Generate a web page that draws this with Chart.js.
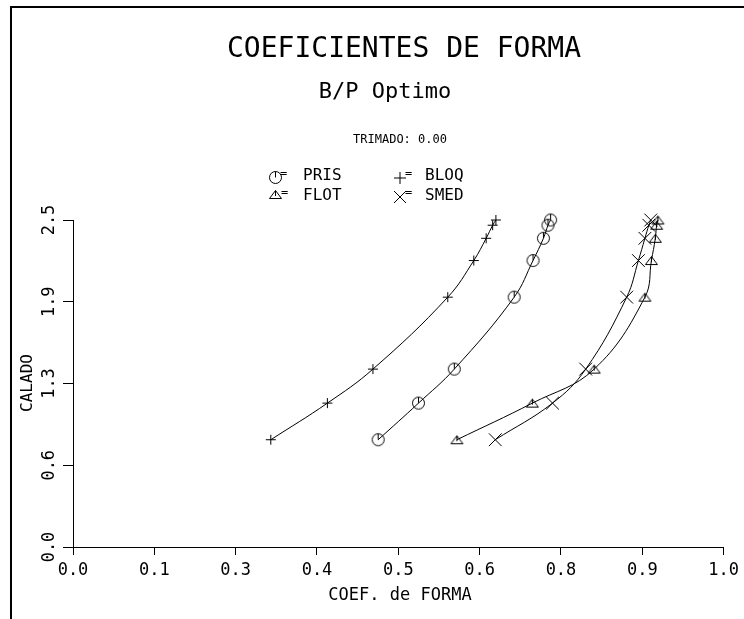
<!DOCTYPE html>
<html>
<head>
<meta charset="utf-8">
<script src="https://cdn.jsdelivr.net/npm/chart.js@4.4.1/dist/chart.umd.min.js"></script>
<style>
  body { margin: 0; background: #fff; }
  canvas { display: block; }
</style>
</head>
<body>
<canvas id="chart" width="744" height="619"></canvas>
<script>
// calado (draft) shared by all the curves
const calado = [0.82, 1.10, 1.36, 1.91, 2.19, 2.36, 2.46, 2.50];

// form coefficients
const pris = [0.469, 0.531, 0.586, 0.678, 0.707, 0.723, 0.730, 0.734];
const bloq = [0.304, 0.391, 0.461, 0.576, 0.616, 0.635, 0.645, 0.650];
const flot = [0.590, 0.706, 0.801, 0.879, 0.889, 0.895, 0.897, 0.899];
const smed = [0.649, 0.737, 0.788, 0.851, 0.869, 0.879, 0.885, 0.888];

// tick labels as printed on the original
const xTickLabels = ['0.0', '0.1', '0.3', '0.4', '0.5', '0.6', '0.8', '0.9', '1.0'];
const yTickLabels = ['0.0', '0.6', '1.3', '1.9', '2.5'];

const FONT = '"DejaVu Sans Mono", "Liberation Mono", monospace';

function toPoints(xs) {
    return xs.map((x, i) => ({ x: x, y: calado[i] }));
}

// small canvases used as point markers
function makeMarker(draw) {
    const c = document.createElement('canvas');
    c.width = 15;
    c.height = 15;
    const g = c.getContext('2d');
    g.strokeStyle = '#000';
    g.lineWidth = 1;
    draw(g);
    return c;
}

const circleMark = makeMarker(g => {
    g.beginPath();
    g.arc(7.5, 7.5, 6, 0, Math.PI * 2);
    g.moveTo(7.5, 1.5);
    g.lineTo(7.5, 7.5);
    g.stroke();
});

const triMark = makeMarker(g => {
    g.beginPath();
    g.moveTo(1.5, 11.5);
    g.lineTo(13.5, 11.5);
    g.lineTo(7.5, 3.5);
    g.closePath();
    g.moveTo(7.5, 3.5);
    g.lineTo(7.5, 9);
    g.stroke();
});

function series(label, xs, style, radius) {
    return {
        label: label,
        data: toPoints(xs),
        showLine: true,
        tension: 0.4,
        clip: false,
        borderColor: '#000',
        borderWidth: 1,
        pointStyle: style,
        pointRadius: radius,
        pointBorderColor: '#000',
        pointBackgroundColor: 'rgba(0,0,0,0)',
        pointBorderWidth: 1
    };
}

// titles, legend, border and rotated y labels
const decorations = {
    id: 'decorations',
    afterDraw(chart) {
        const ctx = chart.ctx;
        ctx.save();
        ctx.fillStyle = '#000';
        ctx.strokeStyle = '#000';

        // frame
        ctx.lineWidth = 2;
        ctx.beginPath();
        ctx.moveTo(11, 619);
        ctx.lineTo(11, 7);
        ctx.lineTo(744, 7);
        ctx.stroke();

        ctx.textAlign = 'center';
        ctx.textBaseline = 'alphabetic';
        ctx.font = '28px ' + FONT;
        ctx.fillText('COEFICIENTES DE FORMA', 404, 57);
        ctx.font = '22px ' + FONT;
        ctx.fillText('B/P Optimo', 385, 98);
        ctx.font = '12px ' + FONT;
        ctx.fillText('TRIMADO: 0.00', 400, 143);

        // legend
        ctx.lineWidth = 1;
        ctx.drawImage(circleMark, 268, 170);
        ctx.drawImage(triMark, 268, 187);
        ctx.beginPath();
        ctx.moveTo(394, 178); ctx.lineTo(406, 178);
        ctx.moveTo(400, 172); ctx.lineTo(400, 184);
        ctx.moveTo(394, 191); ctx.lineTo(406, 203);
        ctx.moveTo(406, 191); ctx.lineTo(394, 203);
        ctx.stroke();
        ctx.textAlign = 'left';
        ctx.font = '12px ' + FONT;
        ctx.fillText('=', 280, 177);
        ctx.fillText('=', 281, 196);
        ctx.fillText('=', 405, 177);
        ctx.fillText('=', 405, 196);
        ctx.font = '16px ' + FONT;
        ctx.fillText('PRIS', 303, 180);
        ctx.fillText('FLOT', 303, 200);
        ctx.fillText('BLOQ', 425, 180);
        ctx.fillText('SMED', 425, 200);

        // axis titles
        ctx.textAlign = 'center';
        ctx.font = '17px ' + FONT;
        ctx.fillText('COEF. de FORMA', 400, 600);
        ctx.save();
        ctx.translate(28, 383);
        ctx.rotate(-Math.PI / 2);
        ctx.textBaseline = 'middle';
        ctx.font = '16px ' + FONT;
        ctx.fillText('CALADO', 0, 0);
        ctx.restore();

        // rotated y tick labels
        const ys = chart.scales.y;
        ctx.font = '17px ' + FONT;
        ctx.textBaseline = 'middle';
        ys.ticks.forEach((t, i) => {
            ctx.save();
            ctx.translate(50, ys.getPixelForValue(t.value));
            ctx.rotate(-Math.PI / 2);
            ctx.fillText(yTickLabels[i], 0, 0);
            ctx.restore();
        });
        ctx.restore();
    }
};

new Chart(document.getElementById('chart'), {
    type: 'scatter',
    data: {
        datasets: [
            series('PRIS', pris, circleMark, 6),
            series('BLOQ', bloq, 'cross', 5),
            series('FLOT', flot, triMark, 6),
            series('SMED', smed, 'crossRot', 9)
        ]
    },
    options: {
        responsive: false,
        animation: false,
        layout: { padding: { top: 220, right: 17, left: 0, bottom: 0 } },
        plugins: {
            legend: { display: false },
            tooltip: { enabled: false }
        },
        scales: {
            x: {
                type: 'linear',
                min: 0,
                max: 1,
                afterFit: s => { s.height = 72; },
                ticks: {
                    stepSize: 0.125,
                    autoSkip: false,
                    maxRotation: 0,
                    padding: 5,
                    color: '#000',
                    font: { family: FONT, size: 17 },
                    callback: (v, i) => xTickLabels[i]
                },
                grid: { drawOnChartArea: false, tickLength: 8, color: '#000' },
                border: { color: '#000', width: 1 }
            },
            y: {
                type: 'linear',
                min: 0,
                max: 2.5,
                afterFit: s => { s.width = 73; },
                ticks: {
                    stepSize: 0.625,
                    color: 'rgba(0,0,0,0)',
                    callback: (v, i) => yTickLabels[i]
                },
                grid: { drawOnChartArea: false, tickLength: 10, color: '#000' },
                border: { color: '#000', width: 1 }
            }
        }
    },
    plugins: [decorations]
});
</script>
</body>
</html>
